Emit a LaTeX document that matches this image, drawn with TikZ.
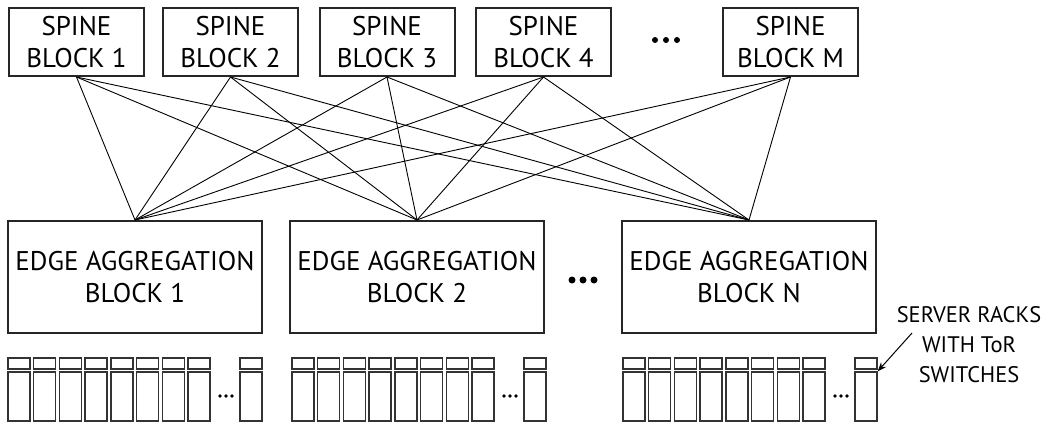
\documentclass[tikz,border=0pt]{standalone}
\usepackage{fontspec}
\setmainfont{PT Sans}
\usetikzlibrary{arrows.meta}
\begin{document}
\begin{tikzpicture}[x=1pt,y=-1pt,
  box/.style={draw=black!85, line width=2pt, fill=white, align=center, inner sep=0pt,
              font=\fontsize{27}{32}\selectfont},
  spinebox/.style={box, minimum width=135pt, minimum height=68pt},
  edgebox/.style={box, minimum width=254pt, minimum height=112pt},
  link/.style={line width=0.9pt, black},
  tor/.style={draw=black!80, line width=1.4pt, minimum width=22pt, minimum height=11pt, inner sep=0pt},
  rack/.style={draw=black!80, line width=1.4pt, minimum width=22pt, minimum height=49pt, inner sep=0pt},
  label/.style={align=center, inner sep=0pt, font=\fontsize{22.5}{30}\selectfont},
]
\useasboundingbox (0,0) rectangle (1047,422);

% spine tier
\node[spinebox] (s1) at (76.5,42) {SPINE\\BLOCK 1};
\node[spinebox] (s2) at (230.5,42) {SPINE\\BLOCK 2};
\node[spinebox] (s3) at (387,42) {SPINE\\BLOCK 3};
\node[spinebox] (s4) at (543.5,42) {SPINE\\BLOCK 4};
\node[spinebox] (s5) at (790.5,42) {SPINE\\BLOCK M};
\foreach \x in {655,666,677} \fill (\x,40) circle (3);

% edge aggregation tier
\node[edgebox] (e1) at (135,277) {EDGE AGGREGATION\\BLOCK 1};
\node[edgebox] (e2) at (417,277) {EDGE AGGREGATION\\BLOCK 2};
\node[edgebox] (e3) at (749,277) {EDGE AGGREGATION\\BLOCK N};
\foreach \x in {572,583,594} \fill (\x,280) circle (3.5);

% full mesh between spine and edge blocks
\foreach \s in {s1,s2,s3,s4,s5}
  \foreach \e in {e1,e2,e3}
    \draw[link] (\s.south) -- (\e.north);

% server racks with their top-of-rack switches
\foreach \g/\x in {1/8,2/292,3/623} {
  \foreach \i in {1,...,8} {
    \node[tor]  (t\g-\i) at ({\x+11+(\i-1)*25.7},363.5) {};
    \node[rack] (r\g-\i) at ({\x+11+(\i-1)*25.7},396.5) {};
  }
  \node[tor]  (t\g-9) at ({\x+243},363.5) {};
  \node[rack] (r\g-9) at ({\x+243},396.5) {};
  \foreach \d in {-6,0,6} \fill ({\x+218+\d},396) circle (1.9);
}

% callout
\node[label] (lbl) at (969,345) {SERVER RACKS\\WITH ToR\\SWITCHES};
\coordinate (tail) at (912,333);
\draw[line width=1pt, -{Stealth[length=9pt,width=7pt]}] (tail) -- (r3-9.north east);
\end{tikzpicture}
\end{document}
